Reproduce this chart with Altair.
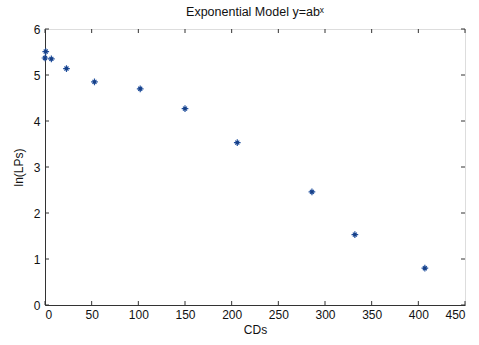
import altair as alt
import pandas as pd

cds = [0.8, 0.0, 6.8, 23, 53, 102, 150, 206, 286, 332, 407]
ln_lps = [5.51, 5.37, 5.35, 5.14, 4.85, 4.70, 4.27, 3.53, 2.46, 1.53, 0.80]
x_ticks = [0, 50, 100, 150, 200, 250, 300, 350, 400, 450]
y_ticks = [0, 1, 2, 3, 4, 5, 6]

df = pd.DataFrame({"CDs": cds, "lnLPs": ln_lps})
xt = pd.DataFrame({"v": x_ticks})
yt = pd.DataFrame({"v": y_ticks})

W, H = 420, 276
font = "Liberation Sans"
xs = alt.Scale(domain=[0, 450], nice=False, zero=False)
ys = alt.Scale(domain=[0, 6], nice=False, zero=False)

star = alt.Chart(df).mark_point(
    shape="M-1,0L1,0M0,-1L0,1M-0.6,-0.6L0.6,0.6M-0.6,0.6L0.6,-0.6",
    size=45, color="#1f4e9c", strokeWidth=1.2, opacity=1, filled=False
).encode(
    x=alt.X("CDs:Q", scale=xs, axis=alt.Axis(values=x_ticks, title="CDs", tickSize=0,
                                            labelPadding=4, titlePadding=4, grid=False,
                                            domainColor="#333", labelFontSize=12, titleFontSize=12,
                                            labelFont=font, titleFont=font, labelColor="#111",
                                            titleColor="#111", titleFontWeight="normal")),
    y=alt.Y("lnLPs:Q", scale=ys, axis=alt.Axis(values=y_ticks, title="ln(LPs)", tickSize=0,
                                               labelPadding=5, titlePadding=8, grid=False,
                                               domainColor="#333", labelFontSize=12, titleFontSize=12,
                                               labelFont=font, titleFont=font, labelColor="#111",
                                               titleColor="#111", titleFontWeight="normal")),
)
core = alt.Chart(df).mark_circle(size=10, color="#173f85", opacity=1).encode(
    x=alt.X("CDs:Q", scale=xs), y=alt.Y("lnLPs:Q", scale=ys))

tick_len = 4
top_ticks = alt.Chart(xt).mark_rule(color="#333").encode(
    x=alt.X("v:Q", scale=xs), y=alt.value(0), y2=alt.value(tick_len))
bot_ticks = alt.Chart(xt).mark_rule(color="#333").encode(
    x=alt.X("v:Q", scale=xs), y=alt.value(H), y2=alt.value(H - tick_len))
left_ticks = alt.Chart(yt).mark_rule(color="#333").encode(
    y=alt.Y("v:Q", scale=ys), x=alt.value(0), x2=alt.value(tick_len))
right_ticks = alt.Chart(yt).mark_rule(color="#333").encode(
    y=alt.Y("v:Q", scale=ys), x=alt.value(W), x2=alt.value(W - tick_len))

chart = alt.layer(top_ticks, bot_ticks, left_ticks, right_ticks, star, core).properties(
    width=W, height=H,
    title=alt.Title("Exponential Model y=abˣ", font=font, fontSize=12.5,
                    fontWeight="normal", color="#111", offset=5),
    autosize=alt.AutoSizeParams(type="none"),
    padding={"left": 45, "top": 29, "right": 14, "bottom": 40},
).configure_view(stroke="#333", strokeWidth=1).configure(background="white")

chart.save("out.html", embed_options={"renderer": "svg", "actions": False})
